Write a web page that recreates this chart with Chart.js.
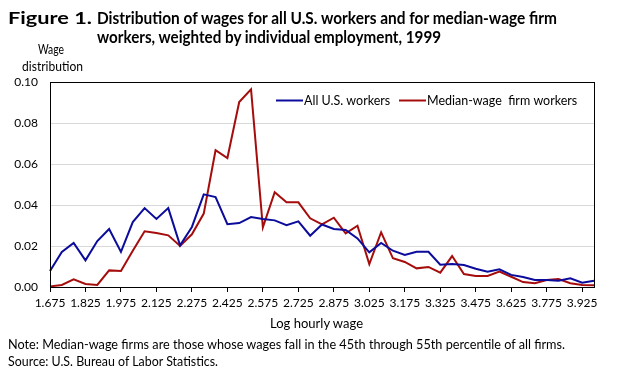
<!DOCTYPE html>
<html>
<head>
<meta charset="utf-8">
<script src="https://cdn.jsdelivr.net/npm/chart.js@4.4.1/dist/chart.umd.min.js"></script>
<style>
  body { margin: 0; background: #fff; }
  #wrap { position: relative; width: 623px; height: 374px; overflow: hidden; font-family: Lato, "Open Sans", sans-serif; color: #000; }
  #wrap canvas { position: absolute; left: 0; top: 0; }
  .t { position: absolute; white-space: nowrap; transform-origin: left top; line-height: 1; }
  .ttl { font-weight: bold; font-size: 17px; }
  .sm { font-size: 13px; }
</style>
</head>
<body>
<div id="wrap">
  <canvas id="wageChart" width="623" height="374"></canvas>
  <div class="t ttl" style="left:8px;top:9px" data-w="84">Figure 1.</div>
  <div class="t ttl" style="left:97px;top:9px" data-w="460">Distribution of wages for all U.S. workers and for median-wage firm</div>
  <div class="t ttl" style="left:97px;top:28px" data-w="344">workers, weighted by individual employment, 1999</div>
  <div class="t sm" style="left:38px;top:43px" data-w="26">Wage</div>
  <div class="t sm" style="left:22px;top:60px" data-w="61">distribution</div>
  <div class="t sm" style="left:270px;top:317px" data-w="93">Log hourly wage</div>
  <div class="t sm" style="left:8px;top:338px" data-w="557">Note: Median-wage firms are those whose wages fall in the 45th through 55th percentile of all firms.</div>
  <div class="t sm" style="left:8px;top:355px" data-w="210">Source: U.S. Bureau of Labor Statistics.</div>
</div>
<script>
// Log hourly wage (category points)
const logWage = [
  '1.675', '1.725', '1.775', '1.825', '1.875', '1.925', '1.975', '2.025', '2.075', '2.125',
  '2.175', '2.225', '2.275', '2.325', '2.375', '2.425', '2.475', '2.525', '2.575', '2.625',
  '2.675', '2.725', '2.775', '2.825', '2.875', '2.925', '2.975', '3.025', '3.075', '3.125',
  '3.175', '3.225', '3.275', '3.325', '3.375', '3.425', '3.475', '3.525', '3.575', '3.625',
  '3.675', '3.725', '3.775', '3.825', '3.875', '3.925', '3.975'
];

// All U.S. workers
const allWorkers = [
  0.0078, 0.0171, 0.0215, 0.0130, 0.0224, 0.0283, 0.0171, 0.0317, 0.0385, 0.0332,
  0.0385, 0.0203, 0.0293, 0.0452, 0.0439, 0.0306, 0.0312, 0.0341, 0.0332, 0.0325,
  0.0302, 0.0320, 0.0250, 0.0305, 0.0283, 0.0278, 0.0237, 0.0169, 0.0215, 0.0177,
  0.0156, 0.0172, 0.0172, 0.0109, 0.0112, 0.0107, 0.0089, 0.0075, 0.0086, 0.0059,
  0.0049, 0.0034, 0.0034, 0.0031, 0.0042, 0.0021, 0.0031
];

// Median-wage firm workers
const medianFirm = [
  0.0003, 0.0010, 0.0037, 0.0015, 0.0010, 0.0081, 0.0078, 0.0177, 0.0272, 0.0263,
  0.0252, 0.0200, 0.0257, 0.0358, 0.0667, 0.0629, 0.0902, 0.0964, 0.0291, 0.0462,
  0.0413, 0.0413, 0.0335, 0.0306, 0.0338, 0.0262, 0.0299, 0.0112, 0.0267, 0.0140,
  0.0122, 0.0091, 0.0098, 0.0070, 0.0151, 0.0063, 0.0054, 0.0054, 0.0075, 0.0050,
  0.0024, 0.0018, 0.0034, 0.0039, 0.0018, 0.0010, 0.0008
];

const yTicks = [0, 0.02, 0.04, 0.06, 0.08, 0.10];

// estira/encoge los textos para que ocupen el mismo ancho que en la figura
function fitTexts() {
    document.querySelectorAll('[data-w]').forEach(el => {
        el.style.transform = '';
        const w = el.getBoundingClientRect().width;
        el.style.transform = 'scaleX(' + (parseFloat(el.dataset.w) / w) + ')';
    });
}
fitTexts();

// marco negro alrededor del área del gráfico
const frame = {
    id: 'frame',
    afterDraw(chart) {
        const a = chart.chartArea;
        const c = chart.ctx;
        c.save();
        c.strokeStyle = '#000';
        c.lineWidth = 1;
        c.strokeRect(Math.round(a.left) + 0.5, Math.round(a.top) + 0.5,
            Math.round(a.right - a.left), Math.round(a.bottom - a.top));
        c.restore();
    }
};

// leyenda dentro del área del gráfico
const insideLegend = {
    id: 'insideLegend',
    afterDraw(chart) {
        const a = chart.chartArea;
        const c = chart.ctx;
        const starts = [a.left + 226, a.left + 349]; // inicio de cada entrada
        const y = a.top + 18.5;
        c.save();
        c.font = '12.5px Lato';
        c.textBaseline = 'middle';
        chart.data.datasets.forEach((ds, i) => {
            const x = starts[i];
            c.strokeStyle = ds.borderColor;
            c.lineWidth = 2;
            c.beginPath();
            c.moveTo(x, y);
            c.lineTo(x + 27, y);
            c.stroke();
            c.fillStyle = '#000';
            c.fillText(ds.label, x + 28, y);
        });
        c.restore();
    }
};

const ctx = document.getElementById('wageChart').getContext('2d');
new Chart(ctx, {
    type: 'line',
    data: {
        labels: logWage,
        datasets: [{
            label: 'All U.S. workers',
            data: allWorkers,
            borderColor: '#0b0b9c',
            borderWidth: 2,
            pointRadius: 0,
            tension: 0
        }, {
            label: 'Median-wage  firm workers',
            data: medianFirm,
            borderColor: '#a50d0d',
            borderWidth: 2,
            pointRadius: 0,
            tension: 0
        }]
    },
    options: {
        responsive: false,
        animation: false,
        layout: { padding: { left: 0, top: 82, right: 29, bottom: 0 } },
        plugins: {
            legend: { display: false },
            tooltip: { enabled: false }
        },
        scales: {
            x: {
                type: 'category',
                offset: false,
                afterFit(scale) { scale.height = 87; },
                border: { display: false },
                grid: {
                    drawOnChartArea: false,
                    drawTicks: true,
                    tickLength: 5,
                    color: '#000'
                },
                ticks: {
                    autoSkip: false,
                    maxRotation: 0,
                    padding: 4,
                    color: '#000',
                    font: { family: 'Lato', size: 12 },
                    callback: function(value, index) {
                        return index % 3 === 0 ? logWage[index] : null;
                    }
                }
            },
            y: {
                min: yTicks[0],
                max: yTicks[yTicks.length - 1],
                afterFit(scale) { scale.width = 50; },
                afterBuildTicks(scale) { scale.ticks = yTicks.map(v => ({ value: v })); },
                border: { display: false },
                grid: {
                    drawTicks: false,
                    color: function(context) {
                        const v = context.tick ? context.tick.value : 0;
                        return (v <= 0 || v >= 0.099) ? 'rgba(0,0,0,0)' : '#d9d9d9';
                    }
                },
                ticks: {
                    padding: 12,
                    color: '#000',
                    font: { family: 'Lato', size: 12 },
                    callback: function(value) { return Number(value).toFixed(2); }
                }
            }
        }
    },
    plugins: [frame, insideLegend]
});
</script>
</body>
</html>
